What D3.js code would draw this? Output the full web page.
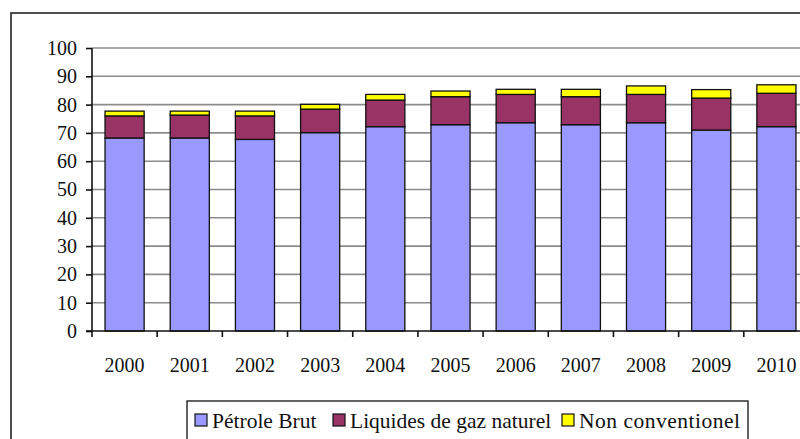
<!DOCTYPE html>
<html><head><meta charset="utf-8">
<script src="https://cdn.jsdelivr.net/npm/d3@7"></script>
<style>body{margin:0;background:#fff}svg{display:block}</style>
</head><body><svg id="c" width="800" height="439" font-family="Liberation Serif"></svg>
<script>
const years = ["2000","2001","2002","2003","2004","2005","2006","2007","2008","2009","2010"];
const petroleBrut = [68.2,68.2,67.7,70.1,72.2,72.9,73.6,72.9,73.6,71.0,72.2];
const liquidesGaz = [7.8,8.1,8.3,8.3,9.4,9.9,10.0,9.9,10.0,11.3,11.8];
const nonConv = [1.7,1.4,1.7,1.7,2.0,2.0,1.8,2.6,3.0,3.0,3.0];
const seriesNames = ["Pétrole Brut","Liquides de gaz naturel","Non conventionel"];
const yTicks = [0,10,20,30,40,50,60,70,80,90,100];
const colors = ["#9999ff","#993366","#ffff00"];

const svg = d3.select("#c");
const FONT = "Liberation Serif";
const fs = 20;
// outer frame
svg.append("rect").attr("x",11).attr("y",13).attr("width",820).attr("height",460)
  .attr("fill","none").attr("stroke","#222").attr("stroke-width",1.6);

const x = d3.scaleBand().domain(years).range([92,809]).paddingInner(0.4).paddingOuter(0.2);
const y = d3.scaleLinear().domain([0,100]).range([331,48]);

// gridlines
svg.append("g").selectAll("line").data(yTicks.slice(1)).join("line")
  .attr("x1",92).attr("x2",809).attr("y1",d=>y(d)).attr("y2",d=>y(d))
  .attr("stroke","#8c8c8c").attr("stroke-width",1.6);

const table = years.map((yr,i)=>({year:yr,a:petroleBrut[i],b:liquidesGaz[i],c:nonConv[i]}));
const stacked = d3.stack().keys(["a","b","c"])(table);
svg.append("g").selectAll("g").data(stacked).join("g")
  .attr("fill",(d,i)=>colors[i])
  .selectAll("rect").data(d=>d).join("rect")
  .attr("x",d=>x(d.data.year)).attr("width",x.bandwidth())
  .attr("y",d=>y(d[1])).attr("height",d=>y(d[0])-y(d[1]))
  .attr("stroke","#111").attr("stroke-width",1.3);

// y axis
const ya = svg.append("g").attr("transform","translate(92,0)")
  .call(d3.axisLeft(y).tickValues(yTicks).tickSize(6).tickPadding(9));
ya.attr("font-family",FONT).attr("font-size",fs);
ya.select(".domain").attr("stroke","#111").attr("stroke-width",1.6).attr("d","M0,331V48");
ya.selectAll(".tick line").attr("stroke","#111").attr("stroke-width",1.6);
ya.selectAll("text").attr("fill","#111");

// x axis
const xa = svg.append("g").attr("transform","translate(0,331)")
  .call(d3.axisBottom(x).tickSize(0).tickPadding(27));
xa.attr("font-family",FONT).attr("font-size",fs);
xa.select(".domain").attr("stroke","#111").attr("stroke-width",1.6).attr("d","M86,0H809");
xa.selectAll("text").attr("fill","#111");
// category boundary ticks
const bounds = years.map((d,i)=>92+i*x.step()).concat([92+years.length*x.step()]);
svg.append("g").selectAll("line").data(bounds).join("line")
  .attr("x1",d=>d).attr("x2",d=>d).attr("y1",331).attr("y2",337)
  .attr("stroke","#111").attr("stroke-width",1.6);

// legend
const lg = svg.append("g").attr("font-family",FONT).attr("font-size",21.5);
lg.append("rect").attr("x",187).attr("y",401).attr("width",561).attr("height",40)
  .attr("fill","#fff").attr("stroke","#222").attr("stroke-width",1.4);
const lx = [195,333,562];
seriesNames.forEach((n,i)=>{
  lg.append("rect").attr("x",lx[i]).attr("y",414).attr("width",12).attr("height",12)
    .attr("fill",colors[i]).attr("stroke","#111").attr("stroke-width",1.2);
  lg.append("text").attr("x",lx[i]+17).attr("y",428).attr("fill","#111")
    .attr("letter-spacing",i===2?0.5:0).text(n);
});
</script></body></html>
